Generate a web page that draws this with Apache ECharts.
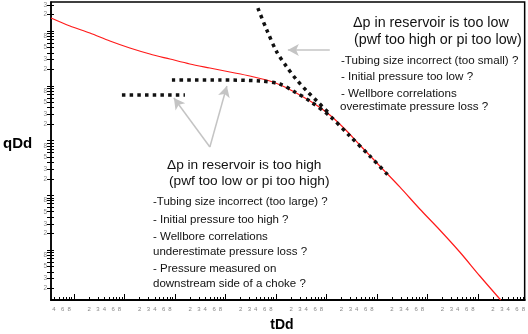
<!DOCTYPE html>
<html><head><meta charset="utf-8">
<script src="https://cdn.jsdelivr.net/npm/echarts@6/dist/echarts.min.js"></script>
<style>html,body{margin:0;padding:0;background:#fff}#c{width:528px;height:334px}</style>
</head><body><div id="c"></div>
<script>
// ---- axis ranges (data units, log-log) ----
const tRange = [0.351, 8.5e8];
const qRange = [0.122, 33900];
// ---- tick digits ----
const minorDigits = [2, 3, 4, 5, 6, 7, 8, 9];
const xLabelDigits = [2, 3, 4, 6, 8];
const yLabelDigits = [2, 3, 5, 8];
// ---- red type curve ----
const typeT = [0.351, 0.833, 2.07, 5.16, 12.8, 32.0, 79.6, 198, 493, 1228, 3055, 7600, 15070, 29860, 59200, 117300, 232400, 460500, 1.146e6, 2.85e6, 7.10e6, 1.77e7, 4.40e7, 1.10e8, 2.85e8];
const typeQ = [17270, 12340, 9190, 6560, 4890, 3800, 3080, 2500, 2110, 1783, 1507, 1222, 949, 678, 464, 292, 162, 82.8, 34.2, 14.2, 5.61, 2.32, 0.919, 0.335, 0.122];
// ---- dotted data: short early flat ----
const flatT = [8.92, 158];
const flatQ = [678, 678];
// ---- dotted data: flat then merging onto curve ----
const mergeT = [87.3, 778, 4820, 12000, 23800, 47100, 117000, 292000, 726000, 1.81e6];
const mergeQ = [1274, 1274, 1222, 1076, 769, 526, 280, 121, 52.1, 21.5];
// ---- dotted data: steep early decline ----
const steepT = [4400, 6630, 10470, 16500, 26000, 41100, 64900, 117000];
const steepQ = [26300, 10400, 4130, 2200, 1274, 802, 526, 305];
// ---- annotation arrows [fromT, fromQ, toT, toQ] ----
const arrows = [
  [117000, 4500, 17300, 4500],
  [493, 76.1, 95.5, 597],
  [493, 76.1, 1071, 989]
];
const upperText = ["Δp in reservoir is too low", "(pwf too high or pi too low)"];
const upperBullets = ["-Tubing size incorrect (too small) ?", "- Initial pressure too low ?", "- Wellbore correlations", "overestimate pressure loss ?"];
const lowerText = ["Δp in reservoir is too high", "(pwf too low or pi too high)"];
const lowerBullets = ["-Tubing size incorrect (too large) ?", "- Initial pressure too high ?", "- Wellbore correlations", "underestimate pressure loss ?", "- Pressure measured on", "downstream side of a choke ?"];

const L = v => Math.log10(v);
const xMin = L(tRange[0]), xMax = L(tRange[1]);
const yMin = L(qRange[0]), yMax = L(qRange[1]);

function ticks(min, max, digits) {
  const out = [];
  for (let k = Math.floor(min) - 1; k <= Math.ceil(max); k++) {
    digits.forEach(d => { const v = k + Math.log10(d); if (v >= min - 1e-9 && v <= max + 1e-9) out.push(v); });
  }
  return out;
}
const xMinor = ticks(xMin, xMax, minorDigits);
const xMajor = ticks(xMin, xMax, [1]);
const yAll = ticks(yMin, yMax, [1].concat(minorDigits));
const xLab = ticks(xMin, xMax, xLabelDigits);
const yLab = ticks(yMin, yMax, yLabelDigits);
const digitFmt = v => String(Math.round(Math.pow(10, v - Math.floor(v + 1e-9))));

const pairs = (ts, qs) => ts.map((t, i) => [L(t), L(qs[i])]);
const FONT = '"Liberation Sans", Arial, sans-serif';
const dotted = {color: '#111', width: 3.5, type: [3.5, 4.2], cap: 'butt'};

const chart = echarts.init(document.getElementById('c'), null, {renderer: 'canvas'});
const texts = [];
upperText.forEach((s, i) => texts.push({type: 'text', x: 353 + i, y: [23, 40][i], style: {text: s, font: '14.3px ' + FONT, fill: '#111', verticalAlign: 'middle'}}));
upperBullets.forEach((s, i) => texts.push({type: 'text', x: 341 - (i === 3 ? 1 : 0), y: [61, 77, 94, 107][i], style: {text: s, font: '11.6px ' + FONT, fill: '#111', verticalAlign: 'middle'}}));
lowerText.forEach((s, i) => texts.push({type: 'text', x: 167 + 2 * i, y: [165, 181][i], style: {text: s, font: '13.7px ' + FONT, fill: '#111', verticalAlign: 'middle'}}));
lowerBullets.forEach((s, i) => texts.push({type: 'text', x: 153, y: [202, 220, 237, 252, 269, 284][i], style: {text: s, font: '11.5px ' + FONT, fill: '#111', verticalAlign: 'middle'}}));
texts.push({type: 'text', x: 3, y: 144, style: {text: 'qDd', font: 'bold 15px ' + FONT, fill: '#000', verticalAlign: 'middle'}});
texts.push({type: 'text', x: 282, y: 325, style: {text: 'tDd', font: 'bold 14px ' + FONT, fill: '#000', align: 'center', verticalAlign: 'middle'}});

const gridPos = {left: 51, top: 2, right: 3, bottom: 34};
chart.setOption({
  animation: false,
  backgroundColor: '#fff',
  grid: [
    Object.assign({show: true, borderColor: '#000', borderWidth: 1.5, backgroundColor: 'transparent'}, gridPos),
    Object.assign({show: false}, gridPos)
  ],
  xAxis: [
    {type: 'value', gridIndex: 0, min: xMin, max: xMax, splitLine: {show: false},
     axisLine: {onZero: false, lineStyle: {color: '#000', width: 2}},
     axisTick: {inside: true, length: 3, customValues: xMinor, lineStyle: {color: '#000'}},
     axisLabel: {customValues: xLab, formatter: digitFmt, fontSize: 6, color: '#888', margin: 6, fontFamily: FONT}},
    {type: 'value', gridIndex: 1, min: xMin, max: xMax, splitLine: {show: false},
     axisLine: {show: false, onZero: false},
     axisTick: {inside: true, length: 6, customValues: xMajor, lineStyle: {color: '#000'}},
     axisLabel: {show: false}}
  ],
  yAxis: [
    {type: 'value', gridIndex: 0, min: yMin, max: yMax, splitLine: {show: false},
     axisLine: {onZero: false, lineStyle: {color: '#000', width: 1.5}},
     axisTick: {inside: false, length: 4, customValues: yAll, lineStyle: {color: '#000'}},
     axisLabel: {customValues: yLab, formatter: digitFmt, fontSize: 6.5, color: '#888', margin: 4, fontFamily: FONT}},
    {type: 'value', gridIndex: 1, min: yMin, max: yMax, splitLine: {show: false},
     axisLine: {show: false, onZero: false},
     axisTick: {inside: true, length: 3, customValues: yAll, lineStyle: {color: '#000'}},
     axisLabel: {show: false}}
  ],
  series: [
    {type: 'line', xAxisIndex: 0, yAxisIndex: 0, data: pairs(typeT, typeQ), showSymbol: false, smooth: 0.3,
     lineStyle: {color: '#ff1a1a', width: 1.2}, z: 3},
    {type: 'line', xAxisIndex: 0, yAxisIndex: 0, data: pairs(flatT, flatQ), showSymbol: false, lineStyle: dotted, z: 4},
    {type: 'line', xAxisIndex: 0, yAxisIndex: 0, data: pairs(mergeT, mergeQ), showSymbol: false, smooth: 0.3, lineStyle: dotted, z: 4},
    {type: 'line', xAxisIndex: 0, yAxisIndex: 0, data: pairs(steepT, steepQ), showSymbol: false, smooth: 0.3, lineStyle: dotted, z: 4},
    {type: 'line', xAxisIndex: 0, yAxisIndex: 0, data: [], showSymbol: false,
     markLine: {silent: true, symbol: ['none', 'arrow'], symbolSize: [9, 11], label: {show: false},
       lineStyle: {color: '#c4c4c4', width: 1.5, type: 'solid'},
       data: arrows.map(a => [{coord: [L(a[0]), L(a[1])]}, {coord: [L(a[2]), L(a[3])]}])}, z: 2}
  ],
  graphic: texts
});
</script></body></html>
